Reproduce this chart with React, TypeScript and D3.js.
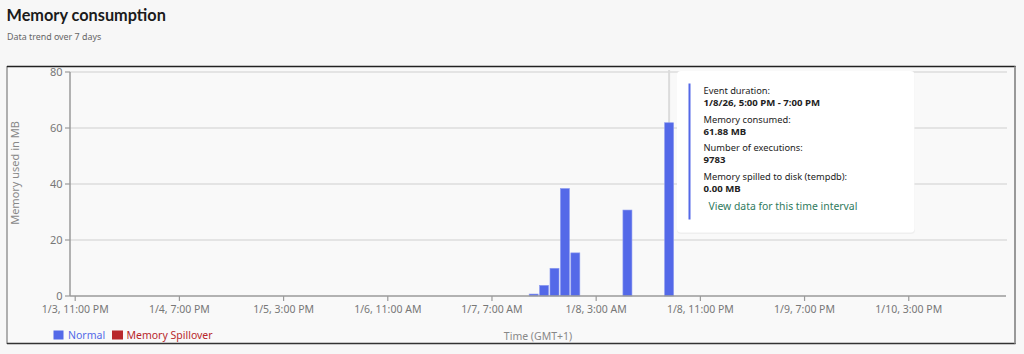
import React from "react";
import * as d3 from "d3";

// ---- data ----
const binStarts = [
  "2026-01-07T15:00:00Z",
  "2026-01-07T17:00:00Z",
  "2026-01-07T19:00:00Z",
  "2026-01-07T21:00:00Z",
  "2026-01-07T23:00:00Z",
  "2026-01-08T09:00:00Z",
  "2026-01-08T17:00:00Z",
];
const normalValues = [0.7, 3.8, 9.9, 38.4, 15.4, 30.7, 61.88];
const spillValues = [0, 0, 0, 0, 0, 0, 0];

const tickTimes = [
  "2026-01-03T23:00:00Z",
  "2026-01-04T19:00:00Z",
  "2026-01-05T15:00:00Z",
  "2026-01-06T11:00:00Z",
  "2026-01-07T07:00:00Z",
  "2026-01-08T03:00:00Z",
  "2026-01-08T23:00:00Z",
  "2026-01-09T19:00:00Z",
  "2026-01-10T15:00:00Z",
];
const tickLabels = [
  "1/3, 11:00 PM",
  "1/4, 7:00 PM",
  "1/5, 3:00 PM",
  "1/6, 11:00 AM",
  "1/7, 7:00 AM",
  "1/8, 3:00 AM",
  "1/8, 11:00 PM",
  "1/9, 7:00 PM",
  "1/10, 3:00 PM",
];
const yTicks = [0, 20, 40, 60, 80];

const hoverIndex = 6;
const tooltipLines = [
  { label: "Event duration:", value: "1/8/26, 5:00 PM - 7:00 PM" },
  { label: "Memory consumed:", value: "61.88 MB" },
  { label: "Number of executions:", value: "9783" },
  { label: "Memory spilled to disk (tempdb):", value: "0.00 MB" },
];
const linkText = "View data for this time interval";

const legendItems = [
  { name: "Normal", color: "#5469e8" },
  { name: "Memory Spillover", color: "#b8282c" },
];

const FONT = "'Noto Sans', 'Open Sans', sans-serif";
const W = 1024;
const H = 354;

export default function App() {
  const x = d3
    .scaleUtc()
    .domain([new Date("2026-01-03T22:00:00Z"), new Date("2026-01-11T09:40:00Z")])
    .range([70, 1006]);
  const y = d3.scaleLinear().domain([0, 80]).range([296, 72]);
  const hour = 3600 * 1000;
  const bars = binStarts.map((s, i) => {
    const t = new Date(s).getTime();
    return {
      x0: x(new Date(t - hour)) + 0.7,
      x1: x(new Date(t + hour)) - 0.7,
      v: normalValues[i],
      sp: spillValues[i],
      t,
    };
  });
  const hoverX = x(new Date(binStarts[hoverIndex]));

  const tipX = 677;
  const tipY = 71;

  return (
    <div style={{ position: "fixed", left: 0, top: 0, width: W, height: H }}>
      <svg width={W} height={H} style={{ display: "block", fontFamily: FONT }}>
        <rect x={0} y={0} width={W} height={H} fill="#f7f7f7" />
        <text x={6.5} y={21} fontSize={16.3} fontWeight={700} fill="#1b1b1b" fontFamily="Lato, 'Noto Sans', sans-serif">
          Memory consumption
        </text>
        <text x={7} y={40} fontSize={8.9} fill="#666">
          Data trend over 7 days
        </text>

        {/* chart box */}
        <rect x={7} y={66.5} width={1008.5} height={277} fill="#f9f9f9" stroke="#666" strokeWidth={1} />
        <line x1={7} x2={1015.5} y1={66.5} y2={66.5} stroke="#222" strokeWidth={1.6} />
        <line x1={7} x2={1015.5} y1={343.5} y2={343.5} stroke="#333" strokeWidth={1.4} />
        <line x1={1015} x2={1015} y1={66.5} y2={343.5} stroke="#999" strokeWidth={2} />

        {/* grid */}
        {yTicks.slice(1).map((v) => (
          <line key={v} x1={70} x2={1007} y1={y(v)} y2={y(v)} stroke="#dcdcdc" strokeWidth={1.3} />
        ))}
        {/* hover line */}
        <line x1={hoverX} x2={hoverX} y1={70} y2={296} stroke="#dcdcdc" strokeWidth={2} />

        {/* bars */}
        {bars.map((b, i) => (
          <g key={i}>
            <rect
              x={b.x0}
              y={y(b.v)}
              width={b.x1 - b.x0}
              height={y(0) - y(b.v)}
              fill="#5469e8"
              stroke="#8d9bf0"
              strokeWidth={0.6}
            />
            {b.sp > 0 && (
              <rect x={b.x0} y={y(b.v + b.sp)} width={b.x1 - b.x0} height={y(b.v) - y(b.v + b.sp)} fill="#b8282c" />
            )}
          </g>
        ))}

        {/* y axis */}
        <line x1={70} x2={70} y1={72} y2={296} stroke="#9a9a9a" strokeWidth={1.5} />
        {yTicks.map((v) => (
          <g key={v}>
            <line x1={65} x2={70} y1={y(v)} y2={y(v)} stroke="#9a9a9a" strokeWidth={1.2} />
            <text x={62.5} y={y(v)} dy="0.35em" textAnchor="end" fontSize={11} fill="#777">
              {v}
            </text>
          </g>
        ))}
        <text
          transform={`translate(18.5,173) rotate(-90)`}
          textAnchor="middle"
          fontSize={11}
          fill="#888"
        >
          Memory used in MB
        </text>

        {/* x axis */}
        <line x1={70} x2={1006} y1={296} y2={296} stroke="#9a9a9a" strokeWidth={1.5} />
        {tickTimes.map((s, i) => {
          const tx = x(new Date(s));
          return (
            <g key={s}>
              <line x1={tx} x2={tx} y1={296} y2={301} stroke="#9a9a9a" strokeWidth={1.2} />
              <text x={tx} y={313} textAnchor="middle" fontSize={10.5} fill="#777">
                {tickLabels[i]}
              </text>
            </g>
          );
        })}
        <text x={538} y={340} textAnchor="middle" fontSize={10.5} fill="#888">
          Time (GMT+1)
        </text>

        {/* legend */}
        <rect x={53.5} y={330.5} width={10} height={9} fill={legendItems[0].color} />
        <text x={68} y={338.5} fontSize={10.5} fill={legendItems[0].color}>
          {legendItems[0].name}
        </text>
        <rect x={112} y={330.5} width={11} height={9} fill={legendItems[1].color} />
        <text x={126.5} y={338.5} fontSize={10.5} fill={legendItems[1].color}>
          {legendItems[1].name}
        </text>

        {/* tooltip */}
        <g>
          <rect x={tipX} y={tipY + 1} width={238} height={162} rx={4} fill="#000" opacity={0.04} />
          <rect x={tipX} y={tipY} width={237.5} height={161.5} rx={4} fill="#ffffff" />
          <rect x={688.5} y={83.5} width={2} height={136} fill="#5469e8" />
          {tooltipLines.map((l, i) => (
            <g key={i}>
              <text x={703.5} y={94 + i * 28.7} fontSize={9.3} fill="#222">
                {l.label}
              </text>
              <text x={703.5} y={106 + i * 28.7} fontSize={9.6} fontWeight={700} fill="#222">
                {l.value}
              </text>
            </g>
          ))}
          <text x={708.5} y={210} fontSize={10.4} fill="#2f7a5e">
            {linkText}
          </text>
        </g>
      </svg>
    </div>
  );
}
